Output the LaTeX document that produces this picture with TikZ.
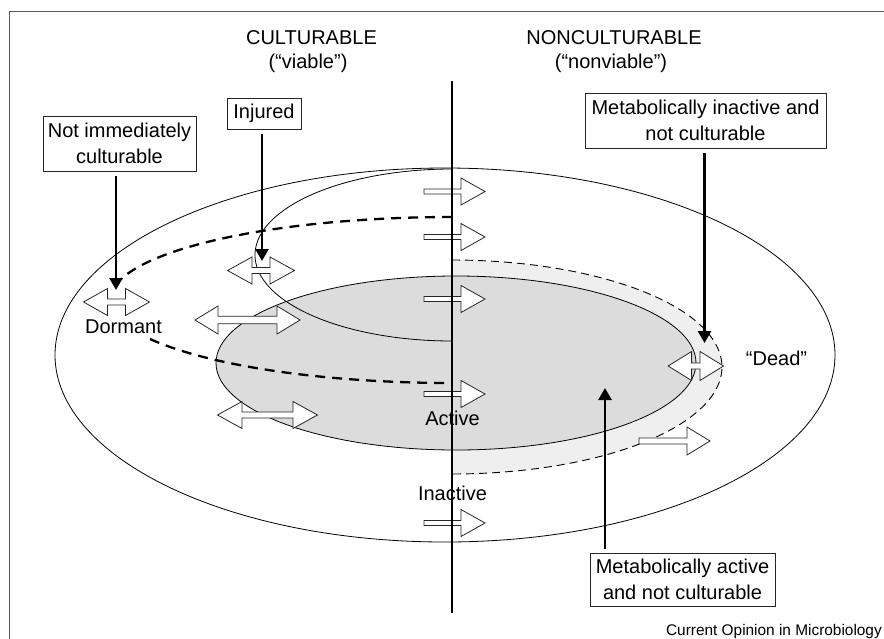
\documentclass[tikz,border=0pt]{standalone}
\usepackage{fontspec}
\setmainfont{Liberation Sans}
\usetikzlibrary{arrows.meta}
\definecolor{innergray}{gray}{0.863}
\definecolor{ringgray}{gray}{0.937}
\begin{document}
\begin{tikzpicture}[x=1pt,y=-1pt,
  thinline/.style={line width=0.8pt, black},
  blockarrow/.style={draw=black!85, line width=0.8pt, fill=white, line join=miter},
  pointer/.style={line width=2.7pt, -{Triangle[length=12pt,width=13pt]}, shorten <=4pt},
  labelbox/.style={draw=black!85, line width=1pt, align=center, inner sep=0pt, font=\fontsize{20}{25.5}\selectfont},
  lbl/.style={font=\fontsize{20}{24}\selectfont, inner sep=0pt, anchor=base},
  dormdash/.style={line width=2.3pt, dash pattern=on 10pt off 7pt},
  ringdash/.style={line width=0.9pt, dash pattern=on 8pt off 5pt},
  pics/dblarr/.style n args={4}{code={
    \draw[blockarrow] (-#1-#2,0) -- (-#1,-#3) -- (-#1,-#4) -- (#1,-#4) -- (#1,-#3) -- (#1+#2,0)
      -- (#1,#3) -- (#1,#4) -- (-#1,#4) -- (-#1,#3) -- cycle;}},
  pics/sglarr/.style n args={4}{code={
    \draw[blockarrow] (0,-#4) -- (#1,-#4) -- (#1,-#3) -- (#1+#2,0) -- (#1,#3) -- (#1,#4) -- (0,#4) -- cycle;}},
]
\useasboundingbox (0,0) rectangle (884,638);
% frame
\draw[line width=1pt, black!65] (9.5,640) -- (9.5,11.5) -- (886,11.5);

% outer ellipse
\draw[thinline] (445,355) ellipse [x radius=390pt, y radius=187pt];
% light ring (right side)
\fill[ringgray] plot[domain=-90:90, samples=150] ({452+270*cos(\x)},{367+107*sin(\x)}) -- cycle;
\draw[ringdash] plot[domain=-90:90, samples=150] ({452+270*cos(\x)},{367+107*sin(\x)});
% inner active ellipse
\draw[thinline, fill=innergray] (456,363) ellipse [x radius=240pt, y radius=87pt];
% injured curve
\draw[thinline] plot[domain=90:270, samples=150] ({452+197*cos(\x)},{255-86*sin(\x)});
% dormant dashed boundary
\draw[dormdash] plot[domain=90:165, samples=100] ({452+342*cos(\x)},{300-83*sin(\x)});
\draw[dormdash] plot[domain=208:270, samples=100] ({452+342*cos(\x)},{300-83*sin(\x)});

% double arrows
\pic (dormarr) at (116.5,302) {dblarr={9}{24}{13.5}{3}};
\pic (injarr) at (261,270.5) {dblarr={9}{24.5}{13.5}{3}};
\pic (deadarr) at (695.8,366) {dblarr={4.2}{23.5}{14.5}{3}};
\pic (big1) at (247.5,320) {dblarr={29.5}{23}{14}{3.8}};
\pic (big2) at (267.5,415) {dblarr={25.5}{24.5}{13.5}{3}};
% single arrows across the vertical line
\pic (s1) at (424,191.5) {sglarr={37}{24}{13.5}{2.5}};
\pic (s2) at (424,237) {sglarr={37}{24}{13.5}{2.5}};
\pic (s3) at (424,299) {sglarr={37}{24}{13.5}{2.5}};
\pic (s4) at (424,394) {sglarr={37}{24}{13.5}{2.5}};
\pic (s5) at (424,523) {sglarr={37}{24}{13.5}{2.5}};
\pic (s6) at (639,441) {sglarr={48}{23}{14}{3}};

% vertical divider
\coordinate (vtop) at (452,81);
\coordinate (vbot) at (452,613);
\draw[line width=2.5pt] (vtop) -- (vbot);

% labels
\node[lbl] (cult) at (311.5,44) {CULTURABLE};
\node[lbl] (viab) at (308,68) {(“viable")};
\node[lbl] (ncult) at (614,44) {NONCULTURABLE};
\node[lbl] (nviab) at (611,68) {(“nonviable")};
\node[lbl] (dormtxt) at (123.5,333) {Dormant};
\node[lbl] (acttxt) at (452.5,425) {Active};
\node[lbl] (inacttxt) at (452.5,500) {Inactive};
\node[lbl] (deadtxt) at (776.5,365) {“Dead”};
\node[font=\fontsize{15.4}{18}\selectfont, anchor=base east, inner sep=0pt] (cred) at (882,635) {Current Opinion in Microbiology};

% boxes
\node[labelbox, minimum width=153pt, minimum height=55pt] (nic) at (119.5,143.5) {Not immediately\\culturable};
\node[labelbox, minimum width=74pt, minimum height=31pt] (inj) at (264,113.5) {Injured};
\node[labelbox, minimum width=241pt, minimum height=55pt] (mina) at (705.5,120.5) {Metabolically inactive and\\not culturable};
\node[labelbox, minimum width=185pt, minimum height=53pt] (mact) at (682.5,579.5) {Metabolically active\\and not culturable};

% pointers
\coordinate (nicT) at (116,290);
\coordinate (injT) at (262,261);
\coordinate (minaT) at (704.5,343);
\coordinate (mactT) at (605,388);
\draw[pointer] (nicT |- nic.south) -- (nicT);
\draw[pointer] (injT |- inj.south) -- (injT);
\draw[pointer] (minaT |- mina.south) -- (minaT);
\draw[pointer] (mactT |- mact.north) -- (mactT);
\end{tikzpicture}
\end{document}
